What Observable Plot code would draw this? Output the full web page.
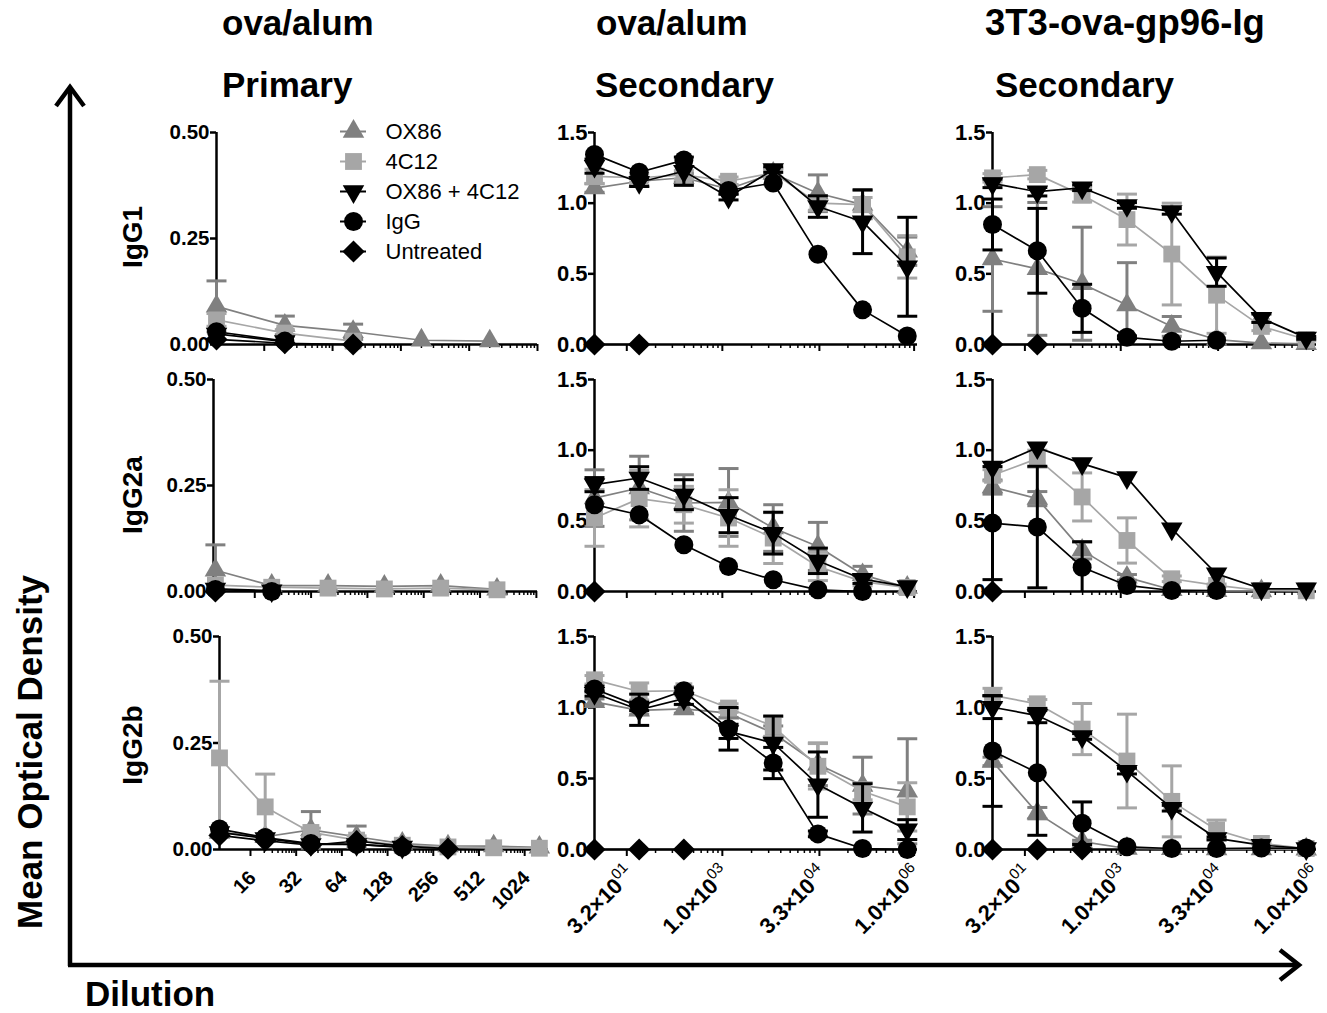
<!DOCTYPE html>
<html><head><meta charset="utf-8">
<script src="https://cdn.jsdelivr.net/npm/d3@7"></script>
<script src="https://cdn.jsdelivr.net/npm/@observablehq/plot@0.6"></script>
<style>
html,body{margin:0;padding:0;background:#fff;overflow:hidden}
#chart{position:relative;width:1327px;height:1013px;font-family:"Liberation Sans",Arial,sans-serif}
</style></head><body><div id="chart"></div>
<script>
// ---------------- DATA ----------------
const series = ["OX86", "4C12", "OX86 + 4C12", "IgG", "Untreated"];
const colTitleTop = ["ova/alum", "ova/alum", "3T3-ova-gp96-Ig"];
const colTitleBottom = ["Primary", "Secondary", "Secondary"];
const rowLabels = ["IgG1", "IgG2a", "IgG2b"];
const yTitle = "Mean Optical Density";
const xTitle = "Dilution";

// dilutions (x values)
const dilPrimIgG1 = [2, 20, 200, 2000, 20000];
const dilPrimIgG2a = [2, 20, 200, 2000, 20000, 200000];
const dilPrimIgG2b = [10, 20, 40, 80, 160, 320, 640, 1280];
const dilSec = [10, 50, 250, 1250, 6250, 31250, 156250, 781250];

// tick values / labels
const primIgG1Ticks = [10, 100, 1000, 10000, 100000];
const primIgG2aTicks = [10, 100, 1000, 10000, 100000, 1000000];
const primIgG2bTicks = [16, 32, 64, 128, 256, 512, 1024];
const primIgG2bTickLabels = ["16", "32", "64", "128", "256", "512", "1024"];
const secTicks = [32, 1000, 33000, 1000000];
const secTickLabels = ["3.2×10^01", "1.0×10^03", "3.3×10^04", "1.0×10^06"];
const yTicksPrimary = [0, 0.25, 0.5];
const yTicksSecondary = [0, 0.5, 1, 1.5];

// ova/alum primary, IgG1
const a1Mean = {"OX86": [0.09, 0.045, 0.03, 0.01, 0.008], "4C12": [0.058, 0.027, 0.008], "OX86 + 4C12": [0.025, 0.007], "IgG": [0.03, 0.008], "Untreated": [0.012, 0.003, 0]};
const a1Sem = {"OX86": [0.06, 0.022, 0.018, 0, 0], "4C12": [0.015, 0.008, 0]};
// ova/alum primary, IgG2a
const a2Mean = {"OX86": [0.05, 0.014, 0.014, 0.012, 0.014, 0.005], "4C12": [0.015, 0.01, 0.008, 0.006, 0.008, 0.004], "OX86 + 4C12": [0.006, 0.002], "IgG": [0.005, 0], "Untreated": [0]};
const a2Sem = {"OX86": [0.06, 0, 0, 0, 0, 0]};
// ova/alum primary, IgG2b
const a3Mean = {"OX86": [0.04, 0.03, 0.046, 0.03, 0.014, 0.008, 0.008, 0.005], "4C12": [0.215, 0.10, 0.04, 0.022, 0.01, 0.006, 0.004, 0.003], "OX86 + 4C12": [0.04, 0.026, 0.012, 0.012, 0.006], "IgG": [0.048, 0.028, 0.014, 0.012, 0.005], "Untreated": [0.033, 0.021, 0.01, 0.02, 0.008, 0.002]};
const a3Sem = {"OX86": [0, 0, 0.043, 0.025, 0, 0, 0, 0], "4C12": [0.18, 0.077, 0.01, 0.01, 0, 0, 0, 0]};
// ova/alum secondary, IgG1
const b1Mean = {"OX86": [1.107, 1.155, 1.18, 1.1, 1.21, 1.07, 0.99, 0.66], "4C12": [1.19, 1.18, 1.2, 1.155, 1.214, 1.0, 0.99, 0.62], "OX86 + 4C12": [1.262, 1.148, 1.226, 1.043, 1.238, 0.976, 0.869, 0.55], "IgG": [1.345, 1.219, 1.305, 1.09, 1.143, 0.638, 0.245, 0.06], "Untreated": [0, 0]};
const b1Sem = {"OX86": [0.03, 0.03, 0.03, 0.03, 0.03, 0.13, 0.1, 0.1], "4C12": [0.05, 0.03, 0.03, 0.03, 0.03, 0.05, 0.05, 0.15], "OX86 + 4C12": [0.05, 0.03, 0.1, 0.02, 0.02, 0.076, 0.226, 0.35]};
// ova/alum secondary, IgG2a
const b2Mean = {"OX86": [0.661, 0.732, 0.626, 0.63, 0.449, 0.319, 0.118, 0.028], "4C12": [0.52, 0.657, 0.614, 0.52, 0.378, 0.177, 0.07, 0.028], "OX86 + 4C12": [0.756, 0.803, 0.685, 0.54, 0.413, 0.217, 0.087, 0.035], "IgG": [0.614, 0.543, 0.331, 0.177, 0.083, 0.012, 0], "Untreated": [0]};
const b2Sem = {"OX86": [0.2, 0.225, 0.2, 0.24, 0.165, 0.17, 0.06, 0], "4C12": [0.2, 0.2, 0.13, 0.2, 0.18, 0.1, 0.03, 0], "OX86 + 4C12": [0.05, 0.08, 0.106, 0.124, 0.148, 0.09, 0.03, 0]};
// ova/alum secondary, IgG2b
const b3Mean = {"OX86": [1.04, 0.98, 0.99, 0.96, 0.82, 0.6, 0.45, 0.41], "4C12": [1.195, 1.113, 1.118, 0.996, 0.867, 0.586, 0.41, 0.3], "OX86 + 4C12": [1.10, 0.984, 1.062, 0.832, 0.75, 0.457, 0.293, 0.14], "IgG": [1.13, 1.008, 1.118, 0.85, 0.609, 0.11, 0.007, 0], "Untreated": [0, 0, 0]};
const b3Sem = {"OX86": [0.02, 0.03, 0.03, 0.03, 0.05, 0.15, 0.2, 0.37], "4C12": [0.03, 0.06, 0.03, 0.03, 0.07, 0.16, 0.06, 0.17], "OX86 + 4C12": [0.02, 0.11, 0.04, 0.05, 0.19, 0.23, 0.17, 0.07], "IgG": [0.02, 0.03, 0.02, 0.15, 0.11, 0.02, 0, 0]};
// 3T3-ova-gp96-Ig secondary, IgG1
const c1Mean = {"OX86": [0.605, 0.535, 0.43, 0.279, 0.128, 0.035, 0.01, 0.005], "4C12": [1.179, 1.202, 1.058, 0.884, 0.64, 0.349, 0.128, 0.035], "OX86 + 4C12": [1.14, 1.081, 1.109, 0.984, 0.942, 0.512, 0.186, 0.047], "IgG": [0.849, 0.663, 0.256, 0.051, 0.023, 0.03], "Untreated": [0, 0]};
const c1Sem = {"OX86": [0.37, 0.47, 0.4, 0.3, 0.07, 0, 0, 0], "4C12": [0.03, 0.03, 0.05, 0.18, 0.36, 0.27, 0.03, 0.01], "OX86 + 4C12": [0.03, 0.03, 0.02, 0.02, 0.02, 0.1, 0.03, 0.01], "IgG": [0.18, 0.3, 0.17, 0.01, 0, 0]};
// 3T3-ova-gp96-Ig secondary, IgG2a
const c2Mean = {"OX86": [0.739, 0.657, 0.291, 0.1, 0.012, 0.005, 0.004], "4C12": [0.822, 0.94, 0.669, 0.361, 0.09, 0.043, 0.007, 0.005], "OX86 + 4C12": [0.881, 1.018, 0.905, 0.806, 0.444, 0.125, 0.019, 0.019], "IgG": [0.484, 0.456, 0.172, 0.043, 0.007, 0.007], "Untreated": [0]};
const c2Sem = {"OX86": [0.05, 0.05, 0.06, 0.02, 0, 0, 0], "4C12": [0.04, 0.06, 0.17, 0.16, 0.02, 0.01, 0, 0], "IgG": [0.4, 0.43, 0.18, 0, 0, 0]};
// 3T3-ova-gp96-Ig secondary, IgG2b
const c3Mean = {"OX86": [0.62, 0.256, 0.055, 0.007, 0.005, 0.004, 0.003, 0.002], "4C12": [1.085, 1.026, 0.848, 0.623, 0.339, 0.137, 0.043, 0.007], "OX86 + 4C12": [1.002, 0.943, 0.796, 0.552, 0.291, 0.078, 0.031, 0.007], "IgG": [0.694, 0.54, 0.185, 0.019, 0.007, 0.007, 0.01, 0.01], "Untreated": [0, 0, 0]};
const c3Sem = {"OX86": [0.03, 0.04, 0.01, 0, 0, 0, 0, 0], "4C12": [0.05, 0.03, 0.18, 0.33, 0.25, 0.07, 0.01, 0], "OX86 + 4C12": [0.08, 0.05, 0.02, 0.02, 0.02, 0.01, 0, 0], "IgG": [0.39, 0.44, 0.15, 0, 0, 0, 0, 0]};

// ---------------- STYLE / LAYOUT ----------------
const FONT = '"Liberation Sans", Arial, sans-serif';
const look = {
  "OX86": {color: "#808080", symbol: "triangle", r: 8, rotate: 0},
  "4C12": {color: "#a6a6a6", symbol: "square", r: 9.5, rotate: 0},
  "OX86 + 4C12": {color: "#000000", symbol: "triangle", r: 8, rotate: 180},
  "IgG": {color: "#000000", symbol: "circle", r: 9.5, rotate: 0},
  "Untreated": {color: "#000000", symbol: "diamond2", r: 10, rotate: 0}
};
const rowPx = [[132, 344], [379, 591], [636, 849]];
const capSym = {draw(ctx) { ctx.moveTo(-10, 0); ctx.lineTo(10, 0); }};

const panels = [
  {col: 0, row: 0, dil: dilPrimIgG1, mean: a1Mean, sem: a1Sem, domain: [2, 1e5], majors: primIgG1Ticks, labels: null, ymax: 0.5, yticks: yTicksPrimary, fmt: ".2f", x0: 216, x1: 537},
  {col: 0, row: 1, dil: dilPrimIgG2a, mean: a2Mean, sem: a2Sem, domain: [1.85, 1.047e6], majors: primIgG2aTicks, labels: null, ymax: 0.5, yticks: yTicksPrimary, fmt: ".2f", x0: 213, x1: 537},
  {col: 0, row: 2, dil: dilPrimIgG2b, mean: a3Mean, sem: a3Sem, domain: [10, 1470], majors: primIgG2bTicks, labels: primIgG2bTickLabels, ymax: 0.5, yticks: yTicksPrimary, fmt: ".2f", x0: 219, x1: 548},
  {col: 1, row: 0, dil: dilSec, mean: b1Mean, sem: b1Sem, domain: [10, 1.13e6], majors: secTicks, labels: null, ymax: 1.5, yticks: yTicksSecondary, fmt: ".1f", x0: 594, x1: 917},
  {col: 1, row: 1, dil: dilSec, mean: b2Mean, sem: b2Sem, domain: [10, 1.13e6], majors: secTicks, labels: null, ymax: 1.5, yticks: yTicksSecondary, fmt: ".1f", x0: 594, x1: 917},
  {col: 1, row: 2, dil: dilSec, mean: b3Mean, sem: b3Sem, domain: [10, 1.13e6], majors: secTicks, labels: secTickLabels, ymax: 1.5, yticks: yTicksSecondary, fmt: ".1f", x0: 594, x1: 917},
  {col: 2, row: 0, dil: dilSec, mean: c1Mean, sem: c1Sem, domain: [10, 1.13e6], majors: secTicks, labels: null, ymax: 1.5, yticks: yTicksSecondary, fmt: ".1f", x0: 992, x1: 1316},
  {col: 2, row: 1, dil: dilSec, mean: c2Mean, sem: c2Sem, domain: [10, 1.13e6], majors: secTicks, labels: null, ymax: 1.5, yticks: yTicksSecondary, fmt: ".1f", x0: 992, x1: 1316},
  {col: 2, row: 2, dil: dilSec, mean: c3Mean, sem: c3Sem, domain: [10, 1.13e6], majors: secTicks, labels: secTickLabels, ymax: 1.5, yticks: yTicksSecondary, fmt: ".1f", x0: 992, x1: 1316}
];

// minor ticks: log-style subdivisions between consecutive major ticks
function minorTicks(majors, domain) {
  const out = [];
  for (let i = 0; i < majors.length; i++) {
    const a = majors[i];
    const b = i + 1 < majors.length ? majors[i + 1] : a * (a / majors[i - 1]);
    for (let m = 2; m <= 9; m++) {
      const v = a * Math.pow(b / a, Math.log10(m));
      if (v <= domain[1] * 1.0001) out.push(v);
    }
  }
  return out;
}

const chart = document.getElementById("chart");
const SVGNS = "http://www.w3.org/2000/svg";

// ---------- overlay: arrows and titles ----------
const ov = document.createElementNS(SVGNS, "svg");
ov.setAttribute("width", 1327); ov.setAttribute("height", 1013);
ov.style.position = "absolute"; ov.style.left = "0px"; ov.style.top = "0px";
chart.appendChild(ov);
function el(name, attrs, text) {
  const e = document.createElementNS(SVGNS, name);
  for (const k in attrs) e.setAttribute(k, attrs[k]);
  if (text != null) e.textContent = text;
  ov.appendChild(e);
  return e;
}
el("line", {x1: 70, y1: 966, x2: 70, y2: 88, stroke: "#000", "stroke-width": 4.5});
el("polyline", {points: "56,106 70,87 84,106", fill: "none", stroke: "#000", "stroke-width": 4.5});
el("line", {x1: 68, y1: 965, x2: 1298, y2: 965, stroke: "#000", "stroke-width": 4.5});
el("polyline", {points: "1280,950 1299,965 1280,980", fill: "none", stroke: "#000", "stroke-width": 4.5});
const titleX1 = [222, 596, 985], titleX2 = [222, 595, 995], titleSize = [35, 35, 36.5];
colTitleTop.forEach((t, i) => el("text", {x: titleX1[i], y: 35, "font-family": FONT, "font-size": titleSize[i], "font-weight": "bold"}, t));
colTitleBottom.forEach((t, i) => el("text", {x: titleX2[i], y: 97, "font-family": FONT, "font-size": 35, "font-weight": "bold"}, t));
const rowMid = [237, 495, 745];
rowLabels.forEach((t, i) => el("text", {transform: `translate(142,${rowMid[i]}) rotate(-90)`, "text-anchor": "middle", "font-family": FONT, "font-size": 28, "font-weight": "bold"}, t));
el("text", {transform: "translate(42,752) rotate(-90)", "text-anchor": "middle", "font-family": FONT, "font-size": 35, "font-weight": "bold"}, yTitle);
el("text", {x: 85, y: 1006, "font-family": FONT, "font-size": 35, "font-weight": "bold"}, xTitle);

// ---------- panels ----------
panels.forEach(p => {
  const mL = 70, mR = p.col === 2 ? 10 : 14, mT = 14, mB = p.row === 2 ? 120 : 16;
  const [top, bottom] = rowPx[p.row];
  const width = mL + (p.x1 - p.x0) + mR;
  const height = mT + (bottom - top) + mB;
  const primary = p.col === 0;
  const labelMap = p.labels ? new Map(p.majors.map((v, i) => [v, p.labels[i]])) : null;
  const marks = [
    Plot.axisX(minorTicks(p.majors, p.domain), {tickSize: 4, tickFormat: () => "", strokeWidth: 1.5, label: null}),
    Plot.axisX(p.majors, {tickSize: 7, tickFormat: () => "", strokeWidth: 2, label: null}),
    Plot.axisY(p.yticks, {tickFormat: d3.format(p.fmt), tickSize: 6, tickPadding: 1, strokeWidth: 2.5, fontSize: primary ? 20.5 : 22, fontWeight: "bold", label: null}),
    Plot.ruleX([p.domain[0]], {stroke: "#000", strokeWidth: 2.5}),
    Plot.ruleY([0], {stroke: "#000", strokeWidth: 2.5})
  ];
  if (labelMap) {
    marks.push(Plot.text(p.majors, {x: d => d, frameAnchor: "bottom", text: d => labelMap.get(d), rotate: -45, textAnchor: "end", lineAnchor: "middle",
      dx: primary ? 2 : 4, dy: primary ? 25 : 21, fontSize: primary ? 20 : 22, fontWeight: "bold", fill: "#000"}));
  }
  series.forEach(s => {
    const m = p.mean[s];
    if (!m) return;
    const e = (p.sem && p.sem[s]) || [];
    const data = m.map((y, i) => ({x: p.dil[i], y, sem: e[i] || 0}));
    const errs = data.filter(d => d.sem > 0);
    const st = look[s];
    marks.push(Plot.line(data, {x: "x", y: "y", stroke: st.color, strokeWidth: 1.7}));
    marks.push(Plot.ruleX(errs, {x: "x", y1: d => Math.max(0, d.y - d.sem), y2: d => d.y + d.sem, stroke: st.color, strokeWidth: 3}));
    marks.push(Plot.dot(errs, {x: "x", y: d => d.y + d.sem, symbol: capSym, fill: "none", stroke: st.color, strokeWidth: 3}));
    marks.push(Plot.dot(errs.filter(d => d.y - d.sem > 0), {x: "x", y: d => d.y - d.sem, symbol: capSym, fill: "none", stroke: st.color, strokeWidth: 3}));
    marks.push(Plot.dot(data, {x: "x", y: "y", symbol: st.symbol, r: st.r, fill: st.color, stroke: "none", rotate: st.rotate}));
  });
  const svg = Plot.plot({
    width, height, marginLeft: mL, marginRight: mR, marginTop: mT, marginBottom: mB,
    x: {type: "log", domain: p.domain},
    y: {domain: [0, p.ymax]},
    style: {background: "transparent", fontFamily: FONT, fontSize: "20px", fontWeight: "bold", color: "#000", overflow: "visible"},
    marks
  });
  svg.querySelectorAll("text").forEach(t => {
    const s = t.textContent;
    if (s.includes("^")) {
      const [b, ex] = s.split("^");
      t.textContent = "";
      const t1 = document.createElementNS(SVGNS, "tspan"); t1.textContent = b; t.appendChild(t1);
      const t2 = document.createElementNS(SVGNS, "tspan"); t2.textContent = ex;
      t2.setAttribute("font-size", "15"); t2.setAttribute("font-weight", "normal"); t2.setAttribute("dy", "-10");
      t.appendChild(t2);
    }
  });
  svg.style.position = "absolute";
  svg.style.left = (p.x0 - mL) + "px";
  svg.style.top = (top - mT) + "px";
  chart.appendChild(svg);
});

// ---------- legend ----------
const leg = Plot.plot({
  width: 220, height: 160, margin: 0,
  x: {domain: [0, 1], range: [10, 36], axis: null},
  y: {type: "point", domain: series, range: [20, 141], padding: 0, axis: null},
  style: {background: "transparent", fontFamily: FONT, fontSize: "22px", color: "#000", overflow: "visible"},
  marks: series.flatMap(s => [
    Plot.ruleY([s], {y: d => d, x1: 0, x2: 1, stroke: look[s].color, strokeWidth: 2}),
    Plot.dot([s], {x: 0.5, y: d => d, symbol: look[s].symbol, r: look[s].r, fill: look[s].color, stroke: "none", rotate: look[s].rotate}),
    Plot.text([s], {x: 1, y: d => d, text: d => d, dx: 19, textAnchor: "start", fontWeight: "normal", fontSize: 22, fill: "#000"})
  ])
});
leg.style.position = "absolute"; leg.style.left = "330px"; leg.style.top = "110px";
chart.appendChild(leg);
</script></body></html>
